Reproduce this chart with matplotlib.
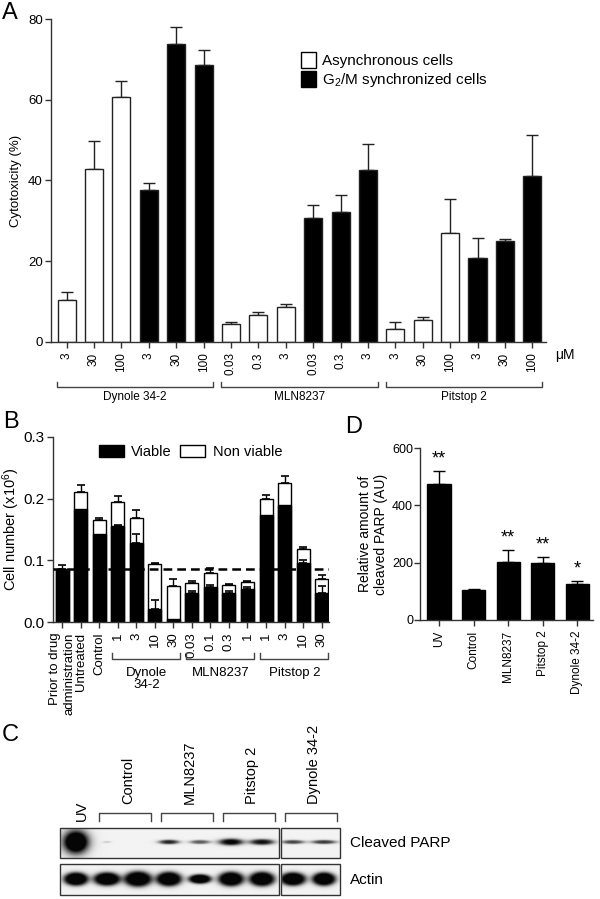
import numpy as np
import matplotlib
matplotlib.use('Agg')
import matplotlib.pyplot as plt
from matplotlib.patches import Patch, Rectangle
from matplotlib.transforms import blended_transform_factory, ScaledTranslation

plt.rcParams['font.family'] = ['Liberation Sans', 'DejaVu Sans']
plt.rcParams['mathtext.fontset'] = 'custom'
plt.rcParams['mathtext.rm'] = 'Liberation Sans'
plt.rcParams['mathtext.it'] = 'Liberation Sans:italic'
plt.rcParams['axes.linewidth'] = 1.0

# Panel A: cytotoxicity
a_doses = ['3', '30', '100', '3', '30', '100',
           '0.03', '0.3', '3', '0.03', '0.3', '3',
           '3', '30', '100', '3', '30', '100']
a_sync = [0, 0, 0, 1, 1, 1] * 3   # 0 = asynchronous, 1 = G2/M synchronized
a_values = [10.5, 42.9, 60.6, 37.7, 73.7, 68.5,
            4.5, 6.8, 8.7, 30.7, 32.2, 42.5,
            3.2, 5.4, 27.0, 20.8, 24.9, 41.0]
a_errors = [1.9, 7.0, 4.1, 1.8, 4.2, 3.7,
            0.5, 0.7, 0.6, 3.2, 4.2, 6.5,
            1.7, 0.8, 8.3, 4.9, 0.6, 10.2]
a_groups = ['Dynole 34-2', 'MLN8237', 'Pitstop 2']

# Panel B: cell number
b_labels = ['Prior to drug\nadministration', 'Untreated', 'Control',
            '1', '3', '10', '30', '0.03', '0.1', '0.3', '1', '1', '3', '10', '30']
b_viable = [0.085, 0.183, 0.143, 0.155, 0.128, 0.021, 0.005,
            0.047, 0.057, 0.047, 0.053, 0.173, 0.190, 0.095, 0.047]
b_total = [0.086, 0.211, 0.166, 0.194, 0.168, 0.094, 0.058,
           0.063, 0.079, 0.060, 0.065, 0.199, 0.225, 0.119, 0.070]
b_total_err = [0.006, 0.011, 0.003, 0.010, 0.013, 0.001, 0.011,
               0.004, 0.009, 0.001, 0.002, 0.007, 0.011, 0.002, 0.007]
b_viable_err = [0.0, 0.0, 0.0, 0.002, 0.014, 0.014, 0.0,
                0.004, 0.003, 0.003, 0.003, 0.0, 0.0, 0.006, 0.011]
b_groups = [(3, 6, 'Dynole\n34-2'), (7, 10, 'MLN8237'), (11, 14, 'Pitstop 2')]

# Panel C: western blot lanes (band strength and size, in pixels)
c_lane_groups = [(1, 2, 'Control'), (3, 4, 'MLN8237'), (5, 6, 'Pitstop 2'), (7, 8, 'Dynole 34-2')]
parp_int = [1.6, 0.15, 0.0, 0.9, 0.65, 1.1, 1.0, 0.75, 0.8]
parp_hw = [11, 4, 3, 9, 9, 11, 11, 10, 11]
parp_hh = [10, 1.0, 1.0, 2.0, 1.8, 3.0, 2.6, 1.8, 1.8]
actin_int = [1.2] * 9
actin_hw = [12, 13, 13.5, 12.5, 11, 12.5, 12.5, 12.5, 11.5]
actin_hh = [6.5, 6.5, 7.5, 7, 4.5, 7, 7, 6.5, 6.5]

# Panel D: cleaved PARP
d_labels = ['UV', 'Control', 'MLN8237', 'Pitstop 2', 'Dynole 34-2']
d_values = [476, 104, 203, 200, 127]
d_errors = [44, 3.5, 41, 20, 9]
d_stars = ['**', '', '**', '**', '*']

W, H = 600, 899
fig = plt.figure(figsize=(W / 100, H / 100), dpi=100)


def px_axes(x0, y0, x1, y1):
    return fig.add_axes([x0 / W, 1 - y1 / H, (x1 - x0) / W, (y1 - y0) / H])


def letter(x, y, s):
    fig.text(x / W, 1 - y / H, s, fontsize=17, ha='left', va='top')


def style(ax):
    ax.spines['top'].set_visible(False)
    ax.spines['right'].set_visible(False)
    for sp in ('left', 'bottom'):
        ax.spines[sp].set_color('#333333')
    ax.tick_params(colors='#333333', labelcolor='black', length=4, width=1)
    ax.tick_params(axis='y', pad=2)


# ---- A ----
ax_a = px_axes(51, 19, 546, 342)
xa = np.arange(len(a_values))
colors = ['white' if s == 0 else 'black' for s in a_sync]
ax_a.bar(xa, a_values, width=0.66, color=colors, edgecolor='#222222', linewidth=1, zorder=2)
ax_a.errorbar(xa, a_values, yerr=[np.zeros(len(a_errors)), a_errors], fmt='none',
              ecolor='#222222', elinewidth=1, capsize=4, capthick=1, zorder=1)
ax_a.set_xlim(-0.57, 17.5)
ax_a.set_ylim(0, 80)
ax_a.set_yticks([0, 20, 40, 60, 80])
ax_a.set_xticks(xa)
ax_a.set_xticklabels(a_doses, rotation=90, fontsize=8.5)
style(ax_a)
ax_a.tick_params(axis='y', labelsize=9.5)
ax_a.set_ylabel('Cytotoxicity (%)', fontsize=9.5, labelpad=4)
ta = blended_transform_factory(ax_a.transData, ax_a.transAxes)
ax_a.text(18.2, -0.04, 'μM', transform=ta, ha='center', va='center', fontsize=10)
for g, name in enumerate(a_groups):
    s = g * 6
    ax_a.plot([s - 0.35, s - 0.35, s + 5.35, s + 5.35], [-0.124, -0.139, -0.139, -0.124],
              transform=ta, clip_on=False, color='#444444', lw=1)
    ax_a.text(s + 2.5, -0.152, name, transform=ta, ha='center', va='top', fontsize=8.5)
ax_a.legend(handles=[Patch(facecolor='white', edgecolor='black', lw=1),
                     Patch(facecolor='black', edgecolor='black')],
            labels=['Asynchronous cells', 'G$_2$/M synchronized cells'],
            loc='upper left', bbox_to_anchor=(301 / W, 1 - 52 / H), bbox_transform=fig.transFigure,
            frameon=False, fontsize=11, handlelength=1.0, handleheight=1.2,
            handletextpad=0.4, labelspacing=0.2, borderpad=0, borderaxespad=0)
letter(2, 2, 'A')

# ---- B ----
ax_b = px_axes(53, 437, 329, 622)
xb = np.arange(len(b_total))
ax_b.bar(xb, b_total, width=0.7, color='white', edgecolor='black', linewidth=1, zorder=2)
ax_b.bar(xb, b_viable, width=0.7, color='black', edgecolor='black', linewidth=1, zorder=2)
ax_b.errorbar(xb, b_total, yerr=[np.zeros(len(b_total)), b_total_err], fmt='none',
              ecolor='black', elinewidth=1, capsize=3, capthick=1.2, zorder=1)
vi = [i for i in xb if b_viable_err[i] > 0]
ax_b.errorbar(vi, [b_viable[i] for i in vi], yerr=[np.zeros(len(vi)), [b_viable_err[i] for i in vi]],
              fmt='none', ecolor='black', elinewidth=1, capsize=3, capthick=1.2, zorder=3)
ax_b.axhline(b_total[0], color='black', lw=1.8, ls=(0, (3.5, 2)), zorder=4)
ax_b.set_xlim(-0.5, 14.4)
ax_b.set_ylim(0, 0.3)
ax_b.set_yticks([0, 0.1, 0.2, 0.3])
ax_b.set_yticklabels(['0.0', '0.1', '0.2', '0.3'], fontsize=11)
ax_b.set_xticks(xb)
ax_b.set_xticklabels(b_labels, rotation=90, fontsize=9.5)
for lbl in ax_b.get_xticklabels():
    lbl.set_multialignment('right')
prior = ax_b.get_xticklabels()[0]
prior.set_transform(prior.get_transform() + ScaledTranslation(-0.06, 0, fig.dpi_scale_trans))
style(ax_b)
ax_b.set_ylabel('Cell number (x10$^6$)', fontsize=10.5, labelpad=1)
tb = blended_transform_factory(ax_b.transData, ax_b.transAxes)
for s, e, name in b_groups:
    ax_b.plot([s - 0.3, s - 0.3, e + 0.35, e + 0.35], [-0.17, -0.2, -0.2, -0.17],
              transform=tb, clip_on=False, color='#444444', lw=1)
    ax_b.text((s + e) / 2 + 0.05, -0.245, name, transform=tb, ha='center', va='top',
              fontsize=9.5, linespacing=1.0)
ax_b.legend(handles=[Patch(facecolor='black', edgecolor='black'),
                     Patch(facecolor='white', edgecolor='black', lw=1)],
            labels=['Viable', 'Non viable'], ncol=2,
            loc='upper left', bbox_to_anchor=(99 / W, 1 - 445 / H), bbox_transform=fig.transFigure,
            frameon=False, fontsize=10.5, handlelength=1.7, handleheight=0.8,
            handletextpad=0.5, columnspacing=0.6, borderpad=0, borderaxespad=0)
letter(3, 411, 'B')

# ---- D ----
ax_d = px_axes(420, 448, 593, 620)
xd = np.arange(len(d_values))
ax_d.bar(xd, d_values, width=0.67, color='black', edgecolor='black', zorder=2)
ax_d.errorbar(xd, d_values, yerr=[np.zeros(len(d_errors)), d_errors], fmt='none',
              ecolor='black', elinewidth=1, capsize=4, capthick=1, zorder=1)
for i in xd:
    if d_stars[i]:
        ax_d.text(i, d_values[i] + d_errors[i] + 42, d_stars[i], ha='center', va='center', fontsize=13)
ax_d.set_xlim(-0.55, 4.45)
ax_d.set_ylim(0, 600)
ax_d.set_yticks([0, 200, 400, 600])
ax_d.set_xticks(xd)
ax_d.set_xticklabels(d_labels, rotation=90, fontsize=8.5)
style(ax_d)
ax_d.tick_params(axis='y', labelsize=9, pad=1)
ax_d.set_ylabel('Relative amount of\ncleaved PARP (AU)', fontsize=10, labelpad=3)
letter(345, 416, 'D')

# ---- C ----
ax_c = px_axes(0, 720, 600, 899)
ax_c.set_xlim(0, 600)
ax_c.set_ylim(899, 720)
ax_c.axis('off')
lane_x = 76 + 31 * np.arange(9)


def blot(x0, x1, y0, y1, lanes, yc, inten, hw, hh, soft):
    xs = np.arange(x0, x1) + 0.5
    ys = np.arange(y0, y1) + 0.5
    X, Y = np.meshgrid(xs, ys)
    dark = np.zeros_like(X)
    for i in lanes:
        r = np.sqrt(((X - lane_x[i]) / hw[i]) ** 2 + ((Y - yc) / hh[i]) ** 2)
        dark += inten[i] / (1 + np.exp((r - 1) * soft[i]))
    img = 0.95 - 0.93 * np.clip(dark, 0, 1)
    ax_c.imshow(img, extent=(x0, x1, y1, y0), cmap='gray', vmin=0, vmax=1,
                interpolation='bilinear', aspect='auto', zorder=1)
    ax_c.add_patch(Rectangle((x0, y0), x1 - x0, y1 - y0, fill=False, edgecolor='#333333', lw=1, zorder=2))


parp_soft = [3.5] + [4] * 8
actin_soft = [6] * 9
for lanes, x0, x1 in [(range(0, 7), 60, 279), (range(7, 9), 281, 340)]:
    blot(x0, x1, 828, 858, lanes, 842, parp_int, parp_hw, parp_hh, parp_soft)
    blot(x0, x1, 864, 895, lanes, 879, actin_int, actin_hw, actin_hh, actin_soft)

ax_c.text(lane_x[0] + 6, 821, 'UV', rotation=90, ha='center', va='bottom', fontsize=10.5)
for s, e, name in c_lane_groups:
    a, b = lane_x[s] - 8, lane_x[e] + 13
    ax_c.plot([a, a, b, b], [821, 813, 813, 821], color='#444444', lw=1)
    ax_c.text((a + b) / 2 + 3, 804, name, rotation=90, ha='center', va='bottom', fontsize=10.5)
ax_c.text(350, 843, 'Cleaved PARP', ha='left', va='center', fontsize=11)
ax_c.text(350, 880, 'Actin', ha='left', va='center', fontsize=11)
letter(2, 724, 'C')

fig.savefig('out.png', dpi=100)
